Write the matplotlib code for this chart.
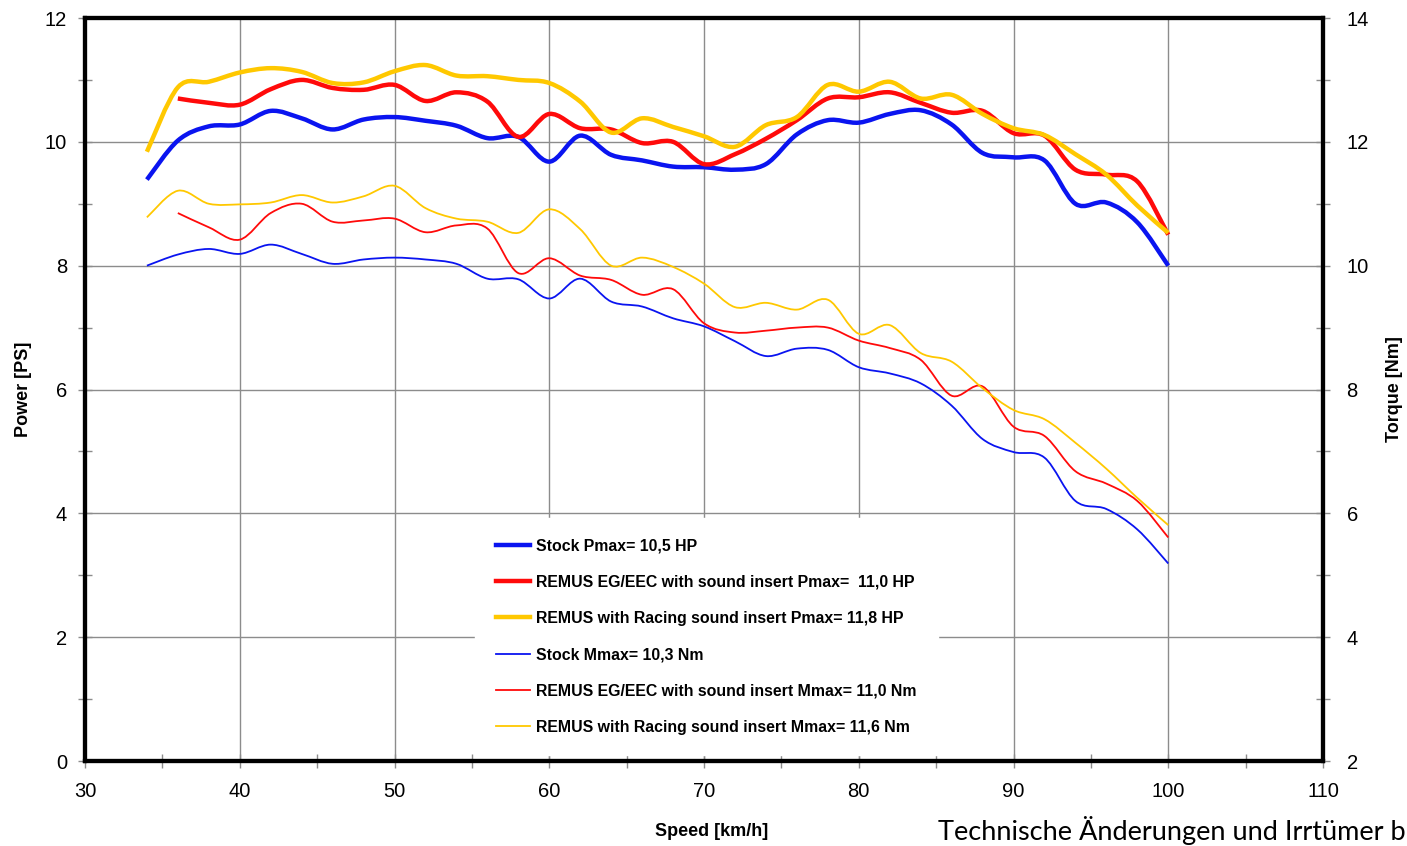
"""
plot.py
-------
Dyno chart: power and torque vs speed, stock vs REMUS exhausts.
"""

import numpy as np
import matplotlib
matplotlib.use("Agg")
import matplotlib.pyplot as plt
from matplotlib.lines import Line2D
from matplotlib.patches import PathPatch
from matplotlib.path import Path
from matplotlib.ticker import MultipleLocator

# ── data ──────────────────────────────────────────────────────────────────────
speed = [34, 36, 38, 40, 42, 44, 46, 48, 50, 52, 54, 56, 58, 60, 62, 64, 66,
         68, 70, 72, 74, 76, 78, 80, 82, 84, 86, 88, 90, 92, 94, 96, 98, 100]

power_stock = [9.39, 10.02, 10.25, 10.28, 10.50, 10.38, 10.20, 10.36, 10.40,
               10.34, 10.26, 10.06, 10.08, 9.68, 10.10, 9.79, 9.70, 9.60, 9.59,
               9.55, 9.64, 10.12, 10.35, 10.31, 10.45, 10.51, 10.28, 9.82,
               9.75, 9.70, 9.00, 9.02, 8.70, 8.00]

power_eg = [np.nan, 10.70, 10.63, 10.60, 10.85, 11.00, 10.87, 10.84, 10.92,
            10.66, 10.80, 10.65, 10.08, 10.45, 10.22, 10.20, 9.98, 10.00, 9.64,
            9.80, 10.05, 10.35, 10.70, 10.72, 10.80, 10.63, 10.47, 10.50,
            10.14, 10.10, 9.55, 9.47, 9.36, 8.50]

power_racing = [9.84, 10.88, 10.97, 11.12, 11.19, 11.13, 10.95, 10.96, 11.14,
                11.24, 11.07, 11.06, 11.00, 10.95, 10.65, 10.15, 10.38, 10.24,
                10.09, 9.92, 10.27, 10.40, 10.92, 10.81, 10.97, 10.70, 10.76,
                10.45, 10.22, 10.11, 9.80, 9.47, 8.97, 8.53]

torque_stock = [10.00, 10.18, 10.27, 10.19, 10.34, 10.19, 10.03, 10.10, 10.13,
                10.10, 10.03, 9.79, 9.78, 9.47, 9.79, 9.42, 9.34, 9.15, 9.02,
                8.78, 8.54, 8.66, 8.64, 8.36, 8.26, 8.10, 7.74, 7.20, 6.99,
                6.90, 6.20, 6.07, 5.74, 5.19]

torque_eg = [np.nan, 10.85, 10.62, 10.42, 10.85, 11.00, 10.71, 10.73, 10.76,
             10.54, 10.65, 10.60, 9.88, 10.12, 9.84, 9.77, 9.53, 9.62, 9.07,
             8.92, 8.95, 9.00, 9.00, 8.79, 8.67, 8.48, 7.90, 8.05, 7.40, 7.25,
             6.68, 6.48, 6.20, 5.61]

torque_racing = [10.78, 11.21, 11.00, 10.99, 11.02, 11.14, 11.02, 11.12, 11.29,
                 10.93, 10.76, 10.71, 10.53, 10.91, 10.59, 10.00, 10.13, 9.98,
                 9.71, 9.33, 9.40, 9.29, 9.45, 8.90, 9.04, 8.59, 8.45, 8.02,
                 7.67, 7.52, 7.14, 6.72, 6.25, 5.81]

power_labels = [
    "Stock Pmax= 10,5 HP",
    "REMUS EG/EEC with sound insert Pmax=  11,0 HP",
    "REMUS with Racing sound insert Pmax= 11,8 HP",
]
torque_labels = [
    "Stock Mmax= 10,3 Nm",
    "REMUS EG/EEC with sound insert Mmax= 11,0 Nm",
    "REMUS with Racing sound insert Mmax= 11,6 Nm",
]

# ── style ─────────────────────────────────────────────────────────────────────
plt.rcParams.update({
    "font.family": ["Liberation Sans", "DejaVu Sans"],
    "font.size": 12,
})

COLORS = {
    "stock":  "#0a14f0",
    "eg":     "#ff0a0a",
    "racing": "#ffc800",
}
GRID = "#8c8c8c"


def smooth_line(ax, xs, ys, color, lw):
    """Draw a spreadsheet-style smoothed line (Bezier through the points)."""
    xs = np.asarray(xs, float)
    ys = np.asarray(ys, float)
    ok = ~np.isnan(ys)
    pts = np.column_stack([xs[ok], ys[ok]])
    n = len(pts)
    verts, codes = [pts[0]], [Path.MOVETO]
    for i in range(n - 1):
        p0 = pts[max(i - 1, 0)]
        p3 = pts[min(i + 2, n - 1)]
        c1 = pts[i] + (pts[i + 1] - p0) / 6
        c2 = pts[i + 1] - (p3 - pts[i]) / 6
        verts += [c1, c2, pts[i + 1]]
        codes += [Path.CURVE4] * 3
    patch = PathPatch(Path(verts, codes), facecolor="none", edgecolor=color,
                      lw=lw, capstyle="butt", joinstyle="round", zorder=3)
    ax.add_patch(patch)


# ── figure ────────────────────────────────────────────────────────────────────
fig = plt.figure(figsize=(14.07, 8.46), dpi=100)
ax = fig.add_axes([85 / 1407, 1 - 761 / 846, (1323 - 85) / 1407, (761 - 18) / 846])
ax2 = ax.twinx()

keys = ["stock", "eg", "racing"]
handles = []
for key, vals in zip(keys, [power_stock, power_eg, power_racing]):
    smooth_line(ax, speed, vals, COLORS[key], 3.2)
    handles.append(Line2D([], [], color=COLORS[key], lw=3.2))
for key, vals in zip(keys, [torque_stock, torque_eg, torque_racing]):
    smooth_line(ax2, speed, vals, COLORS[key], 1.3)
    handles.append(Line2D([], [], color=COLORS[key], lw=1.3))

ax.set_xlim(30, 110)
ax.set_ylim(0, 12)
ax2.set_ylim(2, 14)

ax.xaxis.set_major_locator(MultipleLocator(10))
ax.xaxis.set_minor_locator(MultipleLocator(5))
ax.yaxis.set_major_locator(MultipleLocator(2))
ax.yaxis.set_minor_locator(MultipleLocator(1))
ax2.yaxis.set_major_locator(MultipleLocator(2))
ax2.yaxis.set_minor_locator(MultipleLocator(1))

ax.grid(True, which="major", color=GRID, lw=1.0)
ax.set_axisbelow(True)

for a in (ax, ax2):
    a.tick_params(which="both", direction="inout", length=10, width=1,
                  color=GRID, labelsize=14.5)
ax.tick_params(axis="x", which="major", pad=10)
ax.tick_params(axis="y", which="major", pad=8)
ax2.tick_params(axis="y", which="major", pad=12)
for a in (ax, ax2):
    for sp in a.spines.values():
        sp.set_linewidth(3)
        sp.set_color("black")

ax.set_ylabel("Power [PS]", fontsize=13, fontweight="bold", labelpad=9)
ax2.set_ylabel("Torque [Nm]", fontsize=13, fontweight="bold", labelpad=12)
fig.text(712 / 1407, 1 - 831 / 846, "Speed [km/h]", ha="center", va="center",
         fontsize=13, fontweight="bold")
fig.text(938 / 1407, 1 - 830 / 846, "Technische Änderungen und Irrtümer b",
         ha="left", va="center", fontsize=19.5, family=["Lato", "DejaVu Sans"])

leg = ax2.legend(handles, power_labels + torque_labels,
                 loc="upper left",
                 bbox_to_anchor=((475 - 85) / 1238, (761 - 518) / 743),
                 borderaxespad=0, frameon=True, fancybox=False, framealpha=1,
                 edgecolor="white", facecolor="white", handlelength=2.2,
                 handletextpad=0.38, labelspacing=1.34, borderpad=1.3,
                 prop={"weight": "bold", "size": 11.4})

fig.savefig("out.png", dpi=100)
